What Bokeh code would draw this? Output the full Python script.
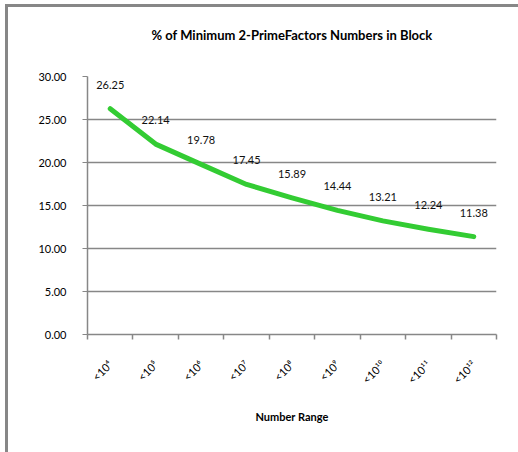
from bokeh.plotting import figure
from bokeh.models import Range1d, FixedTicker, NumeralTickFormatter, ColumnDataSource, InlineStyleSheet, Title
from bokeh.core.properties import value
from bokeh.embed import file_html
from bokeh.resources import INLINE
import math

title_text = "% of Minimum 2-PrimeFactors Numbers in Block"
x_title = "Number Range"
categories = ["<10⁴", "<10⁵", "<10⁶", "<10⁷", "<10⁸", "<10⁹", "<10¹⁰", "<10¹¹", "<10¹²"]
percent = [26.25, 22.14, 19.78, 17.45, 15.89, 14.44, 13.21, 12.24, 11.38]
y_ticks = [0, 5, 10, 15, 20, 25, 30]

xs = [i + 0.5 for i in range(len(categories))]
src = ColumnDataSource(dict(x=xs, y=percent, lab=["%.2f" % v for v in percent]))

GRAY = "#878787"
W, H = 518, 452
ML, MR, MT, MB = 87, 22, 76, 118
p = figure(width=W, height=H, output_backend="svg", toolbar_location=None, title=None,
           x_range=Range1d(0, len(categories)), y_range=Range1d(0, 30),
           min_border_left=ML, min_border_right=MR, min_border_top=MT, min_border_bottom=MB)
p.stylesheets = [InlineStyleSheet(css=":host { box-shadow: inset 5px 4px 0 0 #ffffff, inset 8px 7px 0 0 #878787; }")]
p.border_fill_color = None
p.background_fill_color = "white"
p.outline_line_color = None

# invisible spacer between the frame and the title, then the title itself
p.add_layout(Title(text=".", text_color="white", text_font_size="2px", standoff=29), "above")
p.add_layout(Title(text=title_text, align="center", vertical_align="top", standoff=0,
                   text_font="Lato", text_font_style="bold", text_font_size="13px",
                   text_color="#000000"), "above")

p.xgrid.visible = False
p.ygrid.grid_line_color = GRAY
p.ygrid.grid_line_width = 1.5

p.yaxis.ticker = FixedTicker(ticks=y_ticks)
p.yaxis.formatter = NumeralTickFormatter(format="0.00")
p.yaxis.axis_line_color = GRAY
p.yaxis.axis_line_width = 1.5
p.yaxis.major_tick_line_color = GRAY
p.yaxis.major_tick_in = 0
p.yaxis.major_tick_out = 5
p.yaxis.minor_tick_line_color = None
p.yaxis.major_label_text_font = "Lato"
p.yaxis.major_label_text_font_size = "11px"
p.yaxis.major_label_text_color = "#000000"
p.yaxis.major_label_standoff = 16

p.xaxis.ticker = FixedTicker(ticks=xs, minor_ticks=list(range(len(categories) + 1)))
p.xaxis.major_label_overrides = {x: c for x, c in zip(xs, categories)}
p.xaxis.major_label_orientation = math.pi / 4
p.xaxis.major_label_text_font = "Lato"
p.xaxis.major_label_text_font_size = "11px"
p.xaxis.major_label_text_color = "#000000"
p.xaxis.major_label_standoff = 23
p.xaxis.major_tick_in = 0
p.xaxis.major_tick_out = 0
p.xaxis.minor_tick_in = 0
p.xaxis.minor_tick_out = 5
p.xaxis.minor_tick_line_color = GRAY
p.xaxis.minor_tick_line_width = 1.5
p.xaxis.axis_line_color = GRAY
p.xaxis.axis_line_width = 1.5
p.xaxis.axis_label = x_title
p.xaxis.axis_label_text_font = "Lato"
p.xaxis.axis_label_text_font_style = "bold"
p.xaxis.axis_label_text_font_size = "11px"
p.xaxis.axis_label_text_color = "#000000"
p.xaxis.axis_label_standoff = 17

p.line("x", "y", source=src, line_color="#33cc33", line_width=5, line_cap="round", line_join="round")
p.text("x", "y", text="lab", source=src, y_offset=-24, text_align="center", text_baseline="middle",
       text_font=value("Lato"), text_font_size="11px", text_color="#111111")

open("out.html", "w").write(file_html(p, INLINE))
